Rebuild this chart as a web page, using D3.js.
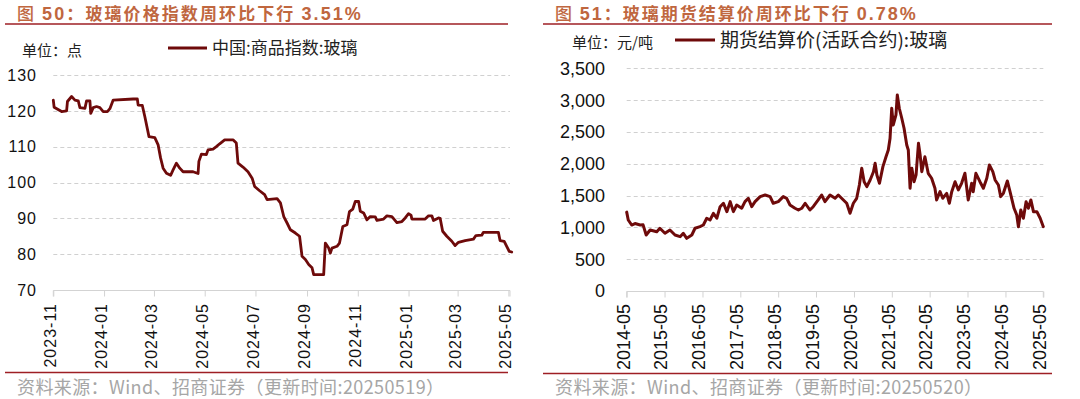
<!DOCTYPE html>
<html><head><meta charset="utf-8">
<script src="https://cdn.jsdelivr.net/npm/d3@7"></script>
<style>body{margin:0;background:#fff}svg{display:block}</style>
</head><body>
<svg id="c" width="1080" height="399"></svg>
<script>
// ---------- data: left chart (中国:商品指数:玻璃) ----------
const leftDates = ["2023-11-01","2023-11-02","2023-11-11","2023-11-17","2023-11-18","2023-11-23","2023-11-27","2023-12-01","2023-12-03","2023-12-09","2023-12-11","2023-12-15","2023-12-16","2023-12-19","2023-12-23","2023-12-27","2023-12-31","2024-01-05","2024-01-08","2024-01-12","2024-02-05","2024-02-10","2024-02-11","2024-02-16","2024-02-19","2024-02-24","2024-03-02","2024-03-06","2024-03-09","2024-03-12","2024-03-16","2024-03-21","2024-03-24","2024-03-28","2024-04-01","2024-04-05","2024-04-17","2024-04-23","2024-04-24","2024-04-27","2024-05-03","2024-05-05","2024-05-11","2024-05-15","2024-05-19","2024-05-25","2024-06-04","2024-06-08","2024-06-10","2024-06-16","2024-06-22","2024-06-27","2024-06-30","2024-07-06","2024-07-12","2024-07-15","2024-07-27","2024-07-31","2024-08-04","2024-08-08","2024-08-12","2024-08-18","2024-08-23","2024-08-26","2024-08-30","2024-09-03","2024-09-07","2024-09-09","2024-09-21","2024-09-23","2024-09-27","2024-09-29","2024-10-01","2024-10-07","2024-10-10","2024-10-14","2024-10-19","2024-10-22","2024-10-26","2024-10-29","2024-11-02","2024-11-04","2024-11-08","2024-11-12","2024-11-16","2024-11-22","2024-11-24","2024-12-02","2024-12-06","2024-12-12","2024-12-18","2024-12-24","2024-12-28","2025-01-01","2025-01-04","2025-01-05","2025-01-21","2025-01-25","2025-01-29","2025-01-31","2025-02-06","2025-02-08","2025-02-11","2025-02-16","2025-02-22","2025-02-26","2025-03-02","2025-03-10","2025-03-20","2025-03-23","2025-03-30","2025-04-01","2025-04-19","2025-04-21","2025-04-26","2025-04-29","2025-05-02","2025-05-05"];
const leftValues = [123.0,121.0,119.8,120.0,122.6,124.0,123.0,122.8,120.9,120.7,122.8,122.8,119.3,120.9,121.2,120.9,119.8,119.8,120.6,123.0,123.3,123.3,121.6,121.5,118.4,112.8,112.5,110.5,106.8,104.0,102.6,102.0,103.5,105.4,104.0,103.0,103.0,102.5,105.9,107.9,107.8,109.1,109.3,110.0,110.8,111.9,111.9,111.0,105.4,104.3,103.0,101.2,98.9,97.7,96.6,95.2,95.5,94.3,90.5,88.7,86.8,85.9,85.0,79.4,78.5,77.1,76.2,74.3,74.3,83.1,81.7,80.3,81.7,82.2,83.1,87.7,88.2,91.9,92.6,94.7,94.7,92.0,91.5,89.6,90.5,90.4,89.4,89.8,90.7,90.5,88.8,89.1,90.1,91.3,90.9,89.8,89.8,90.7,90.7,89.4,90.1,90.0,86.4,85.0,83.6,82.4,83.3,83.8,84.2,85.2,85.3,86.1,86.1,83.8,83.6,82.2,80.8,80.6];
const leftXTicks = ["2023-11","2024-01","2024-03","2024-05","2024-07","2024-09","2024-11","2025-01","2025-03","2025-05"];
const leftYTicks = [70,80,90,100,110,120,130];

// ---------- data: right chart (期货结算价(活跃合约):玻璃) ----------
const rightDates = ["2014-05-01","2014-05-16","2014-06-18","2014-07-20","2014-09-08","2014-10-06","2014-11-05","2014-12-13","2015-02-15","2015-03-17","2015-05-05","2015-06-22","2015-08-10","2015-09-28","2015-10-29","2015-12-01","2016-01-19","2016-02-19","2016-04-07","2016-05-09","2016-06-11","2016-07-13","2016-08-14","2016-09-16","2016-10-18","2016-11-19","2016-12-22","2017-01-23","2017-02-23","2017-03-27","2017-05-14","2017-06-15","2017-07-17","2017-08-19","2017-09-20","2017-11-08","2017-12-26","2018-02-12","2018-03-14","2018-05-02","2018-06-19","2018-07-22","2018-08-23","2018-10-10","2018-11-12","2018-12-14","2019-01-16","2019-03-03","2019-04-04","2019-05-22","2019-06-24","2019-07-26","2019-09-13","2019-11-01","2019-12-02","2020-01-20","2020-02-21","2020-03-24","2020-04-25","2020-05-27","2020-06-22","2020-07-15","2020-08-07","2020-09-02","2020-10-04","2020-11-05","2020-11-21","2020-12-08","2021-01-02","2021-02-04","2021-03-06","2021-03-28","2021-04-14","2021-04-30","2021-05-15","2021-06-10","2021-06-23","2021-07-12","2021-08-05","2021-08-27","2021-09-22","2021-10-07","2021-10-24","2021-11-10","2021-12-02","2021-12-21","2022-01-13","2022-01-29","2022-02-14","2022-03-16","2022-04-17","2022-05-20","2022-06-21","2022-07-07","2022-08-09","2022-09-04","2022-10-12","2022-11-07","2022-11-30","2023-01-01","2023-02-02","2023-03-05","2023-04-06","2023-05-08","2023-06-10","2023-06-25","2023-07-21","2023-08-29","2023-10-01","2023-11-03","2023-11-28","2023-12-31","2024-01-22","2024-02-23","2024-03-16","2024-04-11","2024-05-19","2024-06-14","2024-07-23","2024-08-18","2024-09-03","2024-09-26","2024-10-21","2024-11-16","2024-12-08","2025-01-01","2025-01-26","2025-02-28","2025-04-01","2025-05-01"];
const rightValues = [1240,1116,1037,1060,1037,1040,880,959,932,986,907,959,880,854,907,828,880,986,1011,1037,1143,1116,1221,1143,1325,1379,1247,1404,1247,1352,1300,1404,1457,1325,1404,1483,1509,1483,1379,1404,1483,1457,1352,1300,1273,1300,1379,1273,1325,1431,1509,1404,1509,1457,1509,1431,1379,1221,1379,1457,1666,1929,1718,1640,1745,1875,2007,1824,1693,1955,2111,2217,2400,2872,2610,2767,3081,2872,2715,2558,2295,2217,1614,1929,1718,1824,2322,2138,1875,2111,1850,1772,1614,1431,1561,1457,1535,1379,1561,1718,1588,1693,1850,1431,1693,1561,1850,1718,1614,1772,1981,1875,1745,1666,1483,1535,1729,1561,1300,1195,1011,1273,1143,1404,1300,1431,1247,1247,1143,1011];
const rightXTicks = ["2014-05","2015-05","2016-05","2017-05","2018-05","2019-05","2020-05","2021-05","2022-05","2023-05","2024-05","2025-05"];
const rightYTicks = [0,500,1000,1500,2000,2500,3000,3500];

// ---------- text ----------
const leftTitleParts = [["图 ","cjk",500],["50","lat",700],["：","cjk",700],["玻璃价格指数周环比下行 ","cjk",700],["3.51%","lat",700]];
const rightTitleParts = [["图 ","cjk",500],["51","lat",700],["：","cjk",700],["玻璃期货结算价周环比下行 ","cjk",700],["0.78%","lat",700]];
const leftUnit = "单位：点";
const rightUnit = "单位：元/吨";
const leftSeriesName = "中国:商品指数:玻璃";
const rightSeriesName = "期货结算价(活跃合约):玻璃";
const leftSource = "资料来源：Wind、招商证券（更新时间:20250519）";
const rightSource = "资料来源：Wind、招商证券（更新时间:20250520）";

// ---------- drawing ----------
const svg = d3.select("#c");
const parseDay = d3.timeParse("%Y-%m-%d");
const parseMonth = d3.timeParse("%Y-%m");
const CJK = "'Noto Sans CJK SC','Noto Sans',sans-serif";
const LAT = "'Liberation Sans',Arial,sans-serif";
const titleColor = "#C0673F";
const ruleColor = "#9E1F24";
const lineColor = "#6E0A0A";
const gridColor = "#D0D0D0";
const axisColor = "#D3D3D3";

function drawPanel(o) {
  const g = svg.append("g");
  // title
  const t = g.append("text").attr("x", o.titleX).attr("y", 20)
    .attr("font-family", CJK).attr("font-size", 17).attr("fill", titleColor)
    .attr("letter-spacing", o.titleLS);
  o.titleParts.forEach(p => t.append("tspan").attr("font-weight", p[2])
    .attr("font-family", p[1] === "lat" ? LAT : CJK).attr("font-size", p[1] === "lat" ? 18 : 17).text(p[0]));
  // top rule
  g.append("line").attr("x1", o.ruleX1).attr("x2", o.ruleX2).attr("y1", 24).attr("y2", 24)
    .attr("stroke", ruleColor).attr("stroke-width", 1.6);
  // bottom rule
  g.append("line").attr("x1", o.ruleX1).attr("x2", o.ruleX2).attr("y1", o.bottomRuleY).attr("y2", o.bottomRuleY)
    .attr("stroke", ruleColor).attr("stroke-width", 1.6);
  // unit
  g.append("text").attr("x", o.unitX).attr("y", o.unitY).attr("font-family", CJK)
    .attr("font-size", 15).attr("fill", "#222").text(o.unit);
  // legend
  g.append("line").attr("x1", o.legX1).attr("x2", o.legX2).attr("y1", o.legY).attr("y2", o.legY)
    .attr("stroke", lineColor).attr("stroke-width", 3);
  g.append("text").attr("x", o.legX2 + 5).attr("y", o.legY).attr("dy", "0.36em")
    .attr("font-family", CJK).attr("font-size", o.legFont).attr("fill", "#222").text(o.seriesName);

  // scales
  const x = d3.scaleTime().domain(o.xDomain.map(parseDay)).range([o.x0, o.x1]);
  const y = d3.scaleLinear().domain(d3.extent(o.yTicks)).range([o.y0, o.y1]);

  // grid
  g.append("g").selectAll("line").data(o.yTicks.slice(1)).join("line")
    .attr("x1", o.x0).attr("x2", o.gridX2)
    .attr("y1", d => Math.round(y(d)) + 0.5).attr("y2", d => Math.round(y(d)) + 0.5)
    .attr("stroke", gridColor).attr("stroke-width", 1).attr("stroke-dasharray", "4,3");
  // y labels
  g.append("g").selectAll("text").data(o.yTicks).join("text")
    .attr("x", o.yLabelX).attr("y", d => y(d)).attr("dy", "0.36em")
    .attr("text-anchor", "end").attr("font-family", LAT).attr("font-size", o.tickFont)
    .attr("letter-spacing", o.tickLS).attr("fill", "#111").text(o.yFormat);

  // x axis
  const ticks = o.xTicks.map(parseMonth);
  const axis = d3.axisBottom(x).tickValues(ticks).tickSize(6).tickFormat("");
  const ag = g.append("g").attr("transform", `translate(0,${Math.round(o.y0) + 0.5})`).call(axis);
  ag.select(".domain").attr("stroke", axisColor).attr("d", `M${o.x0},6V0H${o.gridX2}V6`);
  ag.selectAll(".tick line").attr("stroke", axisColor);
  g.append("g").selectAll("text").data(ticks).join("text")
    .attr("transform", d => `translate(${x(d) + o.xLabelDX},${o.y0 + 13}) rotate(-90)`)
    .attr("text-anchor", "end").attr("dy", "0.35em")
    .attr("font-family", LAT).attr("font-size", o.tickFont).attr("letter-spacing", o.tickLS)
    .attr("fill", "#111").text(d3.timeFormat("%Y-%m"));

  // series line
  const pts = o.dates.map((d, i) => [parseDay(d), o.values[i]]);
  g.append("path").datum(pts)
    .attr("d", d3.line().x(d => x(d[0])).y(d => y(d[1])))
    .attr("fill", "none").attr("stroke", lineColor).attr("stroke-width", o.lineW)
    .attr("stroke-linejoin", "round").attr("stroke-linecap", "round");

  // source
  g.append("text").attr("x", o.srcX).attr("y", 394).attr("font-family", CJK)
    .attr("font-size", 18).attr("letter-spacing", 0.4).attr("fill", "#A6A6A6").text(o.source);
}

drawPanel({
  titleParts: leftTitleParts, titleX: 17, titleLS: 2.1,
  ruleX1: 5, ruleX2: 508, bottomRuleY: 372.5,
  unit: leftUnit, unitX: 22, unitY: 56,
  legX1: 168, legX2: 207, legY: 48, legFont: 17, seriesName: leftSeriesName,
  xDomain: ["2023-11-01", "2025-05-05"], x0: 53.3, x1: 511.7, gridX2: 510,
  yTicks: leftYTicks, y0: 290, y1: 75, yLabelX: 37, yFormat: d3.format("d"),
  tickFont: 16, tickLS: 1, xTicks: leftXTicks, xLabelDX: -2.5,
  dates: leftDates, values: leftValues, lineW: 2.8,
  srcX: 17, source: leftSource
});

drawPanel({
  titleParts: rightTitleParts, titleX: 555, titleLS: 2.0,
  ruleX1: 543, ruleX2: 1052, bottomRuleY: 373.5,
  unit: rightUnit, unitX: 572, unitY: 48,
  legX1: 675, legX2: 715, legY: 40, legFont: 19, seriesName: rightSeriesName,
  xDomain: ["2014-05-01", "2025-05-01"], x0: 626.7, x1: 1043.3, gridX2: 1043.3,
  yTicks: rightYTicks, y0: 291, y1: 68.3, yLabelX: 605, yFormat: d3.format(","),
  tickFont: 18, tickLS: 0, xTicks: rightXTicks, xLabelDX: -3.5,
  dates: rightDates, values: rightValues, lineW: 3,
  srcX: 555, source: rightSource
});
</script>
</body></html>
